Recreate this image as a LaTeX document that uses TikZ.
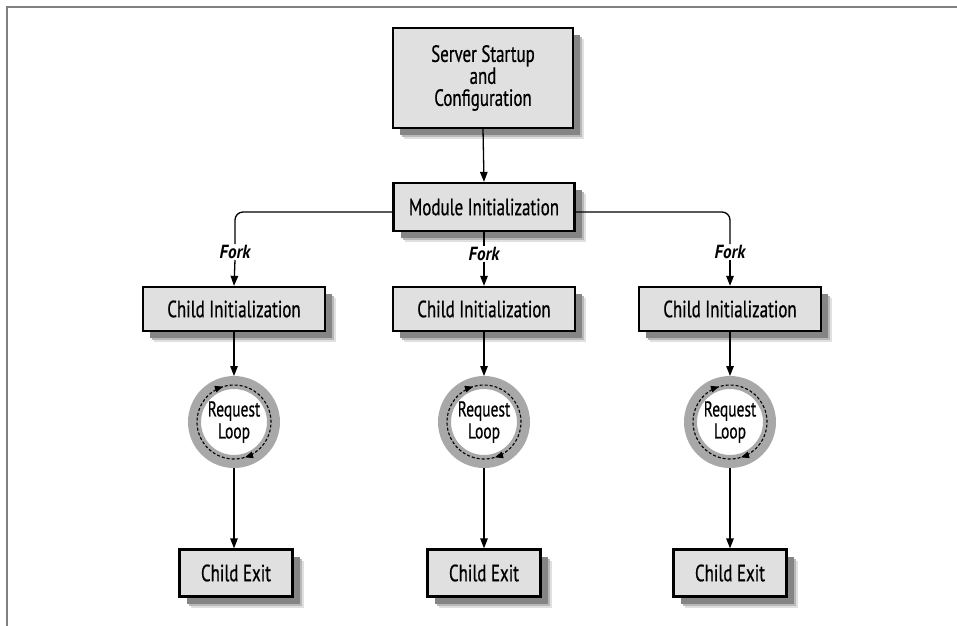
\documentclass[tikz,border=0pt]{standalone}
\usepackage{fontspec}
\setmainfont{PT Sans}[FakeStretch=0.72,FakeBold=0.6]
\newfontfamily\forkfont{PT Sans}[FakeStretch=0.9]
\usetikzlibrary{arrows.meta,decorations.markings,shadows}
\definecolor{boxfill}{HTML}{E0E0E0}
\definecolor{ringgray}{HTML}{A8A8A8}
\definecolor{framegray}{HTML}{808080}
\begin{document}
\begin{tikzpicture}[x=1pt,y=-1pt,
  every node/.style={font=\fontsize{23.5}{22}\selectfont},
  shadowed/.style={
    drop shadow={shadow xshift=11pt,shadow yshift=-11pt,fill=black!12,opacity=1},
    drop shadow={shadow xshift=9pt,shadow yshift=-9pt,fill=black!28,opacity=1},
    drop shadow={shadow xshift=7pt,shadow yshift=-7pt,fill=black!48,opacity=1}},
  stepbox/.style={shadowed, draw=black, line width=2.3pt, fill=boxfill, inner sep=0pt, align=center},
  conn/.style={line width=1.3pt, -{Triangle[length=10pt,width=7.5pt]}},
  plainline/.style={line width=1.3pt, rounded corners=8pt},
  forklbl/.style={font=\forkfont\fontsize{19}{20}\selectfont\bfseries\itshape, inner sep=1pt},
  looptext/.style={font=\fontsize{21.5}{22}\selectfont, align=center, inner sep=0pt},
  loopring/.style={draw=ringgray, line width=13pt},
  dashloop/.style={line width=1.1pt, dash pattern=on 3pt off 2pt,
    postaction={decorate},
    decoration={markings,
      mark=at position 0.035 with {\arrow{Triangle[length=8pt,width=6.5pt]}},
      mark=at position 0.535 with {\arrow{Triangle[length=8pt,width=6.5pt]}}}}
]
\useasboundingbox (0,0) rectangle (957,625);
\draw[framegray, line width=2.5pt] (7,626) -- (7,7) -- (958,7);

% boxes
\node[stepbox, minimum width=180pt, minimum height=100pt] (srv) at (483,78) {Server Startup\\and\\Configuration};
\node[stepbox, minimum width=181pt, minimum height=48pt] (mod) at (484,207) {Module Initialization};

\node[stepbox, minimum width=182pt, minimum height=44pt] (ciA) at (234,309) {Child Initialization};
\node[stepbox, minimum width=182pt, minimum height=44pt] (ciB) at (484,309) {Child Initialization};
\node[stepbox, minimum width=182pt, minimum height=44pt] (ciC) at (730,309) {Child Initialization};

\node[forklbl] (fkA) at (235,252) {Fork};
\node[forklbl] (fkB) at (484,254) {Fork};
\node[forklbl] (fkC) at (730,252) {Fork};

% request loops
\foreach \n/\x in {A/234,B/484,C/730}{
  \node[looptext] (rl\n) at (\x,422) {Request\\Loop};
  \draw[loopring] (rl\n.center) circle[radius=39.5];
  \draw[dashloop] ([shift={(-120:37)}]rl\n.center) arc[start angle=-120, end angle=240, radius=37];
}

\node[stepbox, minimum width=113pt, minimum height=47pt] (exA) at (236,573) {Child Exit};
\node[stepbox, minimum width=113pt, minimum height=47pt] (exB) at (484,573) {Child Exit};
\node[stepbox, minimum width=113pt, minimum height=47pt] (exC) at (730,573) {Child Exit};

% connectors
\draw[conn] (srv.south) -- (mod.north);
\draw[plainline] ([yshift=-5pt]mod.west) -| (fkA.north);
\draw[plainline] ([yshift=-5pt]mod.east) -| (fkC.north);
\draw[plainline] (mod.south) -- (fkB.north);
\draw[conn] (fkA.south) -- (ciA.north);
\draw[conn] (fkB.south) -- (ciB.north);
\draw[conn] (fkC.south) -- (ciC.north);

\coordinate (topA) at (234,376);
\coordinate (topB) at (484,376);
\coordinate (topC) at (730,376);
\coordinate (botA) at (234,468);
\coordinate (botB) at (484,468);
\coordinate (botC) at (730,468);
\draw[conn] (ciA.south) -- (topA);
\draw[conn] (ciB.south) -- (topB);
\draw[conn] (ciC.south) -- (topC);
\draw[conn] (botA) -- (exA.north -| botA);
\draw[conn] (botB) -- (exB.north);
\draw[conn] (botC) -- (exC.north);
\end{tikzpicture}
\end{document}
